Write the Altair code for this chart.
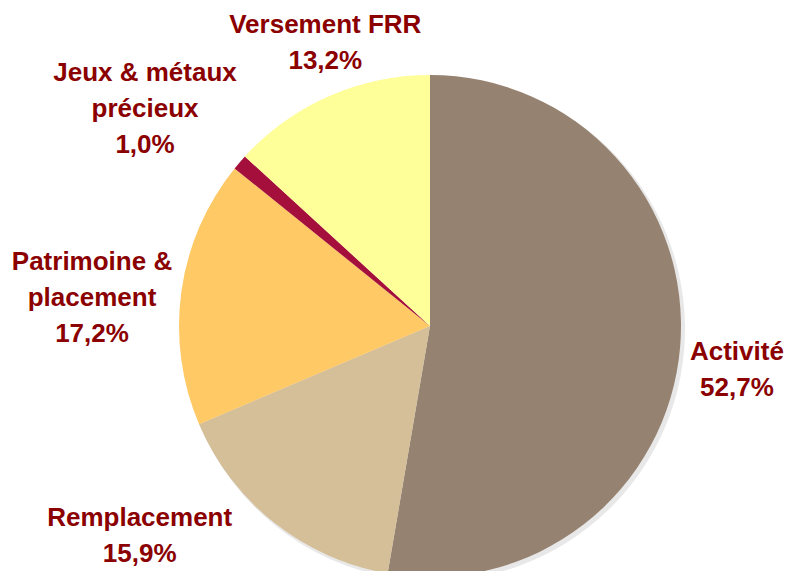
import math
import altair as alt
import pandas as pd

categories = ["Activité", "Remplacement", "Patrimoine & placement", "Jeux & métaux précieux", "Versement FRR"]
values = [52.7, 15.9, 17.2, 1.0, 13.2]
label_names = ["Activité", "Remplacement", "Patrimoine &\nplacement", "Jeux & métaux\nprécieux", "Versement FRR"]
pct_labels = ["52,7%", "15,9%", "17,2%", "1,0%", "13,2%"]
colors = ["#968270", "#D4BF98", "#FFC966", "#A50F3C", "#FFFF99"]

# layout of labels (first line anchor): (angular tweak in degrees, radius in px)
label_layout = [(0.0, 308), (18.2, 348), (2.8, 344), (0.9, 381), (4.6, 319)]

total = sum(values)
cum = 0.0
mids = []
for v in values:
    mids.append((cum + v / 2) / total * 2 * math.pi)
    cum += v

df = pd.DataFrame({
    "cat": categories,
    "value": values,
    "order": list(range(len(values))),
    "text": [n + "\n" + p for n, p in zip(label_names, pct_labels)],
    "ang": [m + math.radians(t[0]) for m, t in zip(mids, label_layout)],
    "r": [t[1] for t in label_layout],
})

CX, CY = 422, 318

pie = alt.Chart(df).mark_arc(outerRadius=251).encode(
    theta=alt.Theta("value:Q", stack=True),
    order=alt.Order("order:Q"),
    color=alt.Color("cat:N", scale=alt.Scale(domain=categories, range=colors), legend=None),
    x=alt.value(CX),
    y=alt.value(CY),
)

shadow = alt.Chart(df).mark_arc(outerRadius=252, color="#d8d8d8", opacity=0.6).encode(
    theta=alt.Theta("value:Q", stack=True),
    order=alt.Order("order:Q"),
    x=alt.value(CX + 3),
    y=alt.value(CY + 3),
)

labels = alt.Chart(df).mark_text(
    font="Liberation Sans",
    fontSize=26,
    fontWeight="bold",
    color="#8B0000",
    lineBreak="\n",
    lineHeight=36,
    align="center",
    baseline="middle",
).encode(
    theta=alt.Theta("ang:Q", scale=None),
    radius=alt.Radius("r:Q", scale=None),
    text="text:N",
    x=alt.value(CX),
    y=alt.value(CY),
)

chart = alt.layer(shadow, pie, labels).properties(
    width=776, height=563, padding=0, autosize="none"
).configure_view(stroke=None)

chart.save("out.html", embed_options={"renderer": "svg", "actions": False})
